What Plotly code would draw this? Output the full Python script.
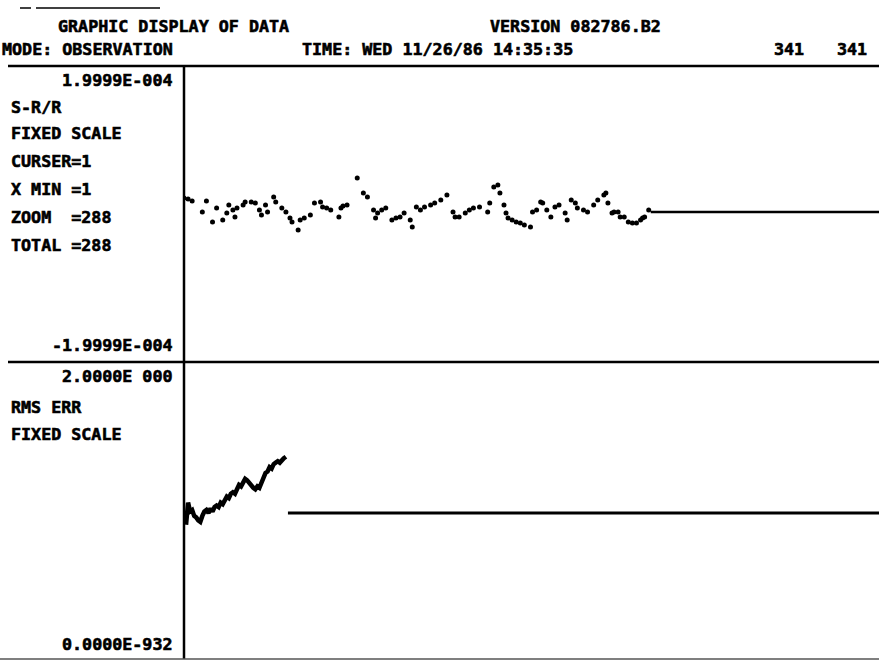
import plotly.graph_objects as go

# ---------------- data ----------------
# Top panel: S-R/R observations (sample index, value)
top_idx = [0, 2, 4, 9, 11, 14, 16, 19, 21, 22, 24, 25, 26, 29, 30, 33, 35, 37, 38, 40,
           41, 44, 45, 48, 50, 52, 53, 56, 57, 59, 62, 64, 67, 68, 70, 72, 76, 77, 78, 80,
           85, 88, 90, 93, 94, 95, 97, 99, 102, 104, 106, 108, 111, 112, 114, 116, 118, 121, 123, 126,
           129, 132, 133, 135, 138, 140, 142, 145, 149, 150, 152, 154, 155, 157, 158, 159, 161, 163, 165, 167,
           170, 171, 173, 175, 176, 178, 180, 182, 184, 187, 188, 190, 192, 193, 196, 198, 201, 203, 206, 207,
           208, 210, 211, 213, 214, 216, 218, 220, 222, 224, 225, 226, 228]
top_val_e6 = [21.6, 20.3, 17.6, 2.7, 17.6, -10.8, 8.1, -8.1, 1.4, 12.2, 5.4, -4.1, 8.1, 12.2, 16.2, 16.2, 14.9, 5.4, -1.4, 12.2,
              2.7, 23.0, 16.2, 8.1, 2.7, -5.4, -10.8, -21.6, -8.1, -5.4, -1.4, 14.9, 16.2, 9.5, 8.1, 5.4, -4.1, 8.1, 10.8, 12.2,
              48.6, 28.4, 23.0, 5.4, -5.4, 1.4, 5.4, 8.1, -8.1, -5.4, -4.1, 1.4, -8.1, -17.6, 9.5, 5.4, 9.5, 12.2, 14.9, 18.9,
              25.7, 2.7, -4.1, -4.1, 1.4, 5.4, 8.1, 9.5, 2.7, 14.9, 36.5, 39.2, 28.4, 12.2, 1.4, -5.4, -8.1, -10.8, -12.2, -14.9,
              -17.6, 2.7, 5.4, 16.2, 14.9, 5.4, -4.1, 9.5, 12.2, 1.4, -8.1, 18.9, 14.9, 8.1, 5.4, 2.7, 12.2, 18.9, 25.7, 28.4,
              14.9, 1.4, 2.7, 2.7, -4.1, -4.1, -10.8, -12.2, -12.2, -8.1, -5.4, -4.1, 5.4]
top_fill_idx = [229, 341]
top_fill_val_e6 = [2.7, 2.7]

# Bottom panel: RMS ERR
bot_idx = list(range(1, 51))
bot_val = [0.90, 1.05, 0.99, 1.00, 0.96, 0.95, 0.93, 0.92, 0.96, 0.99,
           1.00, 0.98, 1.01, 0.99, 1.02, 1.03, 1.02, 1.05, 1.04, 1.07,
           1.09, 1.08, 1.11, 1.12, 1.11, 1.14, 1.17, 1.16, 1.19, 1.21,
           1.20, 1.18, 1.17, 1.15, 1.14, 1.16, 1.15, 1.19, 1.22, 1.25,
           1.26, 1.29, 1.28, 1.31, 1.32, 1.33, 1.32, 1.34, 1.35, 1.36]
bot_fill_idx = [51, 341]
bot_fill_val = [0.98, 0.98]

x_range = [0, 341]
top_range = [-1.9999e-4, 1.9999e-4]
bot_range = [0.0, 2.0]

# ---------------- layout helpers ----------------
W, H = 879, 661
L, R, T, B = 184, 0, 66, 3
PW, PH = W - L - R, H - T - B


def px(x):
    return (x - L) / PW


def py(y):
    return (H - B - y) / PH


FONT = dict(family="DejaVu Sans Mono", size=16.7, color="black")

fig = go.Figure()
fig.add_trace(go.Scatter(x=top_idx, y=[v * 1e-6 for v in top_val_e6], mode="markers",
                         marker=dict(color="black", size=5, symbol="circle", line=dict(width=0)),
                         xaxis="x", yaxis="y", showlegend=False))
fig.add_trace(go.Scatter(x=top_fill_idx, y=[v * 1e-6 for v in top_fill_val_e6], mode="lines",
                         line=dict(color="black", width=2.5), xaxis="x", yaxis="y", showlegend=False))
fig.add_trace(go.Scatter(x=bot_idx, y=bot_val, mode="lines",
                         line=dict(color="black", width=4.5), xaxis="x2", yaxis="y2", showlegend=False))
fig.add_trace(go.Scatter(x=bot_fill_idx, y=bot_fill_val, mode="lines",
                         line=dict(color="black", width=3), xaxis="x2", yaxis="y2", showlegend=False))

ax_common = dict(showgrid=False, zeroline=False, showticklabels=False, ticks="", showline=False)
fig.update_layout(
    width=W, height=H,
    margin=dict(l=L, r=R, t=T, b=B),
    paper_bgcolor="white", plot_bgcolor="white",
    xaxis=dict(domain=[0, 1], range=x_range, anchor="y", **ax_common),
    yaxis=dict(domain=[0.5, 1], range=top_range, anchor="x", **ax_common),
    xaxis2=dict(domain=[0, 1], range=x_range, anchor="y2", **ax_common),
    yaxis2=dict(domain=[0, 0.5], range=bot_range, anchor="x2", **ax_common),
    showlegend=False,
)

shapes = [
    dict(type="line", xref="paper", yref="paper", x0=px(184), x1=px(184), y0=py(66), y1=py(659),
         line=dict(color="black", width=2.5)),
    dict(type="line", xref="paper", yref="paper", x0=px(8), x1=px(879), y0=py(66), y1=py(66),
         line=dict(color="black", width=2.5)),
    dict(type="line", xref="paper", yref="paper", x0=px(8), x1=px(879), y0=py(362), y1=py(362),
         line=dict(color="black", width=2.5)),
    dict(type="line", xref="paper", yref="paper", x0=px(0), x1=px(879), y0=py(659), y1=py(659),
         line=dict(color="#555", width=1.5)),
    dict(type="line", xref="paper", yref="paper", x0=px(20), x1=px(31), y0=py(8), y1=py(8),
         line=dict(color="black", width=1.5)),
    dict(type="line", xref="paper", yref="paper", x0=px(36), x1=px(160), y0=py(8), y1=py(8),
         line=dict(color="black", width=1.5)),
]
fig.update_layout(shapes=shapes)

texts = [
    ("GRAPHIC DISPLAY OF DATA", 56, 26, "left"),
    ("VERSION 082786.B2", 488, 26, "left"),
    ("MODE: OBSERVATION", 0, 49, "left"),
    ("TIME: WED 11/26/86 14:35:35", 300, 49, "left"),
    ("341", 772, 49, "left"),
    ("341", 835, 49, "left"),
    ("1.9999E-004", 175, 80, "right"),
    ("S-R/R", 9, 107, "left"),
    ("FIXED SCALE", 9, 133, "left"),
    ("CURSER=1", 9, 161, "left"),
    ("X MIN =1", 9, 189, "left"),
    ("ZOOM  =288", 9, 217, "left"),
    ("TOTAL =288", 9, 245, "left"),
    ("-1.9999E-004", 175, 345, "right"),
    ("2.0000E 000", 175, 376, "right"),
    ("RMS ERR", 9, 407, "left"),
    ("FIXED SCALE", 9, 434, "left"),
    ("0.0000E-932", 175, 644, "right"),
]
annotations = []
for t, x, y, anc in texts:
    annotations.append(dict(text="<b>" + t + "</b>", xref="paper", yref="paper", x=px(x), y=py(y),
                            xanchor=anc, yanchor="middle", showarrow=False, font=FONT))
fig.update_layout(annotations=annotations)

post = ("document.body.style.margin='0';"
        "var s=document.createElement('style');"
        "s.textContent='.annotation-text{stroke:#000;stroke-width:0.6px;}';"
        "document.head.appendChild(s);")
fig.write_html("out.html", config={"displayModeBar": False}, post_script=post)
